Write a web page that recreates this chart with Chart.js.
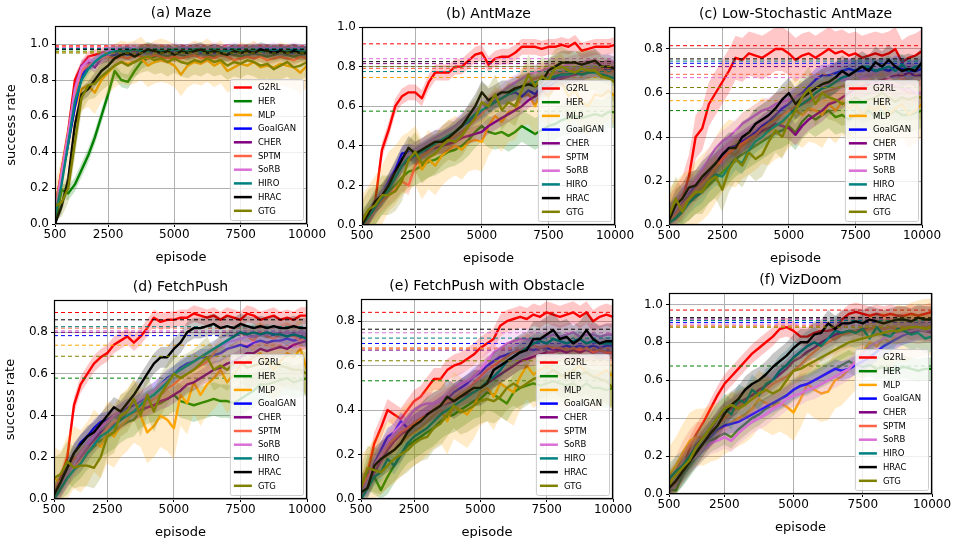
<!DOCTYPE html>
<html>
<head>
<meta charset="utf-8">
<script src="https://cdn.jsdelivr.net/npm/chart.js@4.4.0/dist/chart.umd.min.js"></script>
<style>
  body { margin: 0; background: #fff; width: 955px; height: 538px; overflow: hidden; position: relative; }
  canvas { position: absolute; }
</style>
</head>
<body>
<canvas id="maze"></canvas>
<canvas id="antmaze"></canvas>
<canvas id="lowstoch"></canvas>
<canvas id="fetchpush"></canvas>
<canvas id="fetchobs"></canvas>
<canvas id="vizdoom"></canvas>
<script>
const episodes = [500, 750, 1000, 1250, 1500, 1750, 2000, 2250, 2500, 2750,
  3000, 3250, 3500, 3750, 4000, 4250, 4500, 4750, 5000, 5250,
  5500, 5750, 6000, 6250, 6500, 6750, 7000, 7250, 7500, 7750,
  8000, 8250, 8500, 8750, 9000, 9250, 9500, 9750, 10000];
const xTicks = [500, 2500, 5000, 7500, 10000];
const yTicksTo1 = [0, 0.2, 0.4, 0.6, 0.8, 1.0];
const yTicksTo08 = [0, 0.2, 0.4, 0.6, 0.8];

const methods = ["G2RL", "HER", "MLP", "GoalGAN", "CHER", "SPTM", "SoRB", "HIRO", "HRAC", "GTG"];
const colors = ["#ff0000", "#008000", "#ffa500", "#0000ff", "#800080", "#ff6347", "#da70d6", "#008080", "#000000", "#808000"];

// (a) Maze  -- one row per method, same order as methods
const mazeValues = [
  [0.08,0.3,0.52,0.8,0.88,0.93,0.94,0.95,0.96,0.97, 0.97,0.97,0.96,0.97,0.97,0.96,0.97,0.96,0.96,0.97, 0.96,0.97,0.96,0.97,0.96,0.96,0.97,0.96,0.97,0.96, 0.96,0.97,0.96,0.96,0.97,0.96,0.97,0.96,0.96],
  [0.0,0.19,0.17,0.22,0.3,0.38,0.48,0.6,0.72,0.85, 0.8,0.79,0.85,0.9,0.92,0.93,0.94,0.93,0.95,0.94, 0.93,0.94,0.95,0.94,0.93,0.94,0.95,0.94,0.93,0.94, 0.95,0.94,0.93,0.94,0.95,0.94,0.93,0.94,0.95],
  [0.1,0.25,0.45,0.65,0.75,0.77,0.73,0.8,0.84,0.88, 0.9,0.89,0.9,0.92,0.88,0.9,0.91,0.9,0.88,0.83, 0.88,0.9,0.89,0.91,0.88,0.9,0.85,0.87,0.89,0.88, 0.9,0.87,0.88,0.87,0.89,0.88,0.87,0.84,0.88],
  [0.05,0.25,0.45,0.65,0.82,0.88,0.9,0.92,0.93,0.94, 0.95,0.94,0.95,0.96,0.95,0.96,0.95,0.96,0.95,0.96, 0.95,0.96,0.95,0.96,0.95,0.96,0.95,0.96,0.95,0.96, 0.95,0.96,0.95,0.96,0.95,0.96,0.95,0.96,0.95],
  [0.05,0.28,0.5,0.75,0.88,0.9,0.87,0.92,0.95,0.96, 0.96,0.97,0.96,0.97,0.97,0.96,0.97,0.96,0.97,0.96, 0.97,0.96,0.97,0.96,0.97,0.96,0.97,0.96,0.97,0.96, 0.97,0.96,0.97,0.96,0.97,0.96,0.97,0.96,0.97],
  [0.08,0.3,0.5,0.72,0.85,0.88,0.9,0.92,0.93,0.92, 0.93,0.92,0.94,0.93,0.92,0.94,0.93,0.92,0.93,0.92, 0.93,0.94,0.92,0.93,0.92,0.94,0.93,0.91,0.92,0.93, 0.92,0.93,0.91,0.92,0.93,0.92,0.91,0.93,0.92],
  [0.06,0.28,0.5,0.75,0.87,0.91,0.9,0.94,0.96,0.97, 0.97,0.97,0.98,0.97,0.97,0.98,0.97,0.97,0.98,0.97, 0.97,0.98,0.97,0.97,0.98,0.97,0.97,0.98,0.97,0.97, 0.98,0.97,0.97,0.98,0.97,0.97,0.98,0.97,0.97],
  [0.04,0.22,0.45,0.68,0.8,0.86,0.9,0.93,0.95,0.96, 0.96,0.96,0.97,0.96,0.96,0.97,0.96,0.96,0.97,0.96, 0.96,0.97,0.96,0.96,0.97,0.96,0.96,0.97,0.96,0.96, 0.97,0.96,0.96,0.97,0.96,0.96,0.97,0.96,0.96],
  [0.0,0.1,0.25,0.55,0.72,0.75,0.8,0.85,0.88,0.92, 0.94,0.95,0.93,0.95,0.97,0.96,0.95,0.96,0.94,0.96, 0.95,0.96,0.97,0.95,0.96,0.95,0.94,0.96,0.95,0.96, 0.95,0.97,0.96,0.95,0.96,0.95,0.96,0.95,0.95],
  [0.1,0.12,0.2,0.45,0.7,0.77,0.78,0.82,0.85,0.88, 0.9,0.88,0.9,0.92,0.93,0.91,0.92,0.9,0.92,0.9, 0.89,0.91,0.9,0.92,0.9,0.91,0.88,0.9,0.89,0.91, 0.9,0.88,0.89,0.86,0.88,0.9,0.87,0.88,0.9]
];
const mazeBest = [0.99, 0.96, 0.955, 0.975, 0.98, 0.985, 0.98, 0.975, 0.97, 0.95];
const mazeSpread = [0.03, 0.04, 0.12, 0.03, 0.03, 0.03, 0.03, 0.03, 0.04, 0.08];

// (b) AntMaze
const antValues = [
  [0.0,0.03,0.12,0.38,0.48,0.6,0.65,0.67,0.67,0.64, 0.72,0.77,0.77,0.77,0.8,0.8,0.83,0.86,0.87,0.81, 0.84,0.85,0.85,0.87,0.9,0.9,0.9,0.89,0.9,0.9, 0.91,0.9,0.92,0.88,0.89,0.9,0.9,0.9,0.91],
  [0.0,0.04,0.08,0.13,0.17,0.2,0.24,0.27,0.28,0.3, 0.32,0.33,0.35,0.37,0.38,0.4,0.43,0.47,0.5,0.47, 0.46,0.47,0.45,0.47,0.5,0.48,0.46,0.48,0.5,0.51, 0.53,0.54,0.55,0.54,0.55,0.56,0.55,0.57,0.57],
  [0.0,0.05,0.1,0.15,0.22,0.25,0.3,0.32,0.35,0.28, 0.33,0.3,0.35,0.38,0.4,0.38,0.42,0.43,0.42,0.5, 0.55,0.52,0.57,0.58,0.65,0.66,0.6,0.68,0.65,0.7, 0.72,0.65,0.68,0.62,0.6,0.66,0.65,0.68,0.65],
  [0.0,0.05,0.1,0.15,0.22,0.28,0.36,0.37,0.36,0.38, 0.4,0.42,0.43,0.45,0.47,0.5,0.52,0.55,0.57,0.6, 0.63,0.64,0.66,0.67,0.65,0.68,0.66,0.7,0.72,0.74, 0.75,0.76,0.76,0.77,0.78,0.79,0.78,0.79,0.78],
  [0.0,0.04,0.09,0.14,0.2,0.25,0.3,0.33,0.35,0.37, 0.38,0.39,0.4,0.41,0.42,0.44,0.45,0.46,0.47,0.5, 0.52,0.54,0.56,0.58,0.6,0.63,0.65,0.68,0.7,0.72, 0.74,0.75,0.76,0.77,0.78,0.79,0.78,0.8,0.79],
  [0.0,0.03,0.08,0.12,0.15,0.18,0.22,0.2,0.3,0.35, 0.37,0.4,0.41,0.43,0.45,0.47,0.5,0.53,0.56,0.6, 0.62,0.64,0.66,0.68,0.7,0.72,0.74,0.75,0.76,0.77, 0.77,0.78,0.78,0.77,0.78,0.79,0.78,0.77,0.78],
  [0.0,0.05,0.1,0.16,0.2,0.26,0.32,0.36,0.38,0.4, 0.42,0.44,0.46,0.48,0.5,0.53,0.56,0.58,0.6,0.62, 0.64,0.67,0.7,0.72,0.74,0.76,0.77,0.78,0.79,0.8, 0.8,0.81,0.82,0.82,0.83,0.83,0.82,0.83,0.82],
  [0.0,0.04,0.09,0.14,0.18,0.24,0.3,0.34,0.35,0.37, 0.39,0.41,0.43,0.45,0.47,0.5,0.53,0.56,0.58,0.6, 0.62,0.64,0.66,0.68,0.7,0.71,0.72,0.73,0.74,0.75, 0.76,0.76,0.77,0.76,0.77,0.77,0.76,0.75,0.74],
  [0.0,0.06,0.12,0.15,0.2,0.27,0.33,0.39,0.36,0.38, 0.4,0.42,0.42,0.44,0.47,0.5,0.55,0.6,0.67,0.63, 0.65,0.67,0.67,0.69,0.7,0.71,0.7,0.72,0.78,0.8, 0.82,0.82,0.82,0.81,0.82,0.83,0.8,0.8,0.79],
  [0.02,0.08,0.1,0.15,0.15,0.17,0.22,0.33,0.37,0.31, 0.34,0.36,0.4,0.43,0.42,0.45,0.5,0.54,0.62,0.6, 0.66,0.58,0.62,0.6,0.68,0.76,0.7,0.75,0.73,0.79, 0.8,0.78,0.77,0.79,0.78,0.78,0.75,0.74,0.72]
];
const antBest = [0.915, 0.575, 0.745, 0.8, 0.815, 0.79, 0.84, 0.775, 0.825, 0.8];
const antSpread = [0.04, 0.08, 0.15, 0.04, 0.04, 0.05, 0.04, 0.04, 0.06, 0.1];

// (c) Low-Stochastic AntMaze
const lowValues = [
  [0.03,0.08,0.12,0.22,0.4,0.44,0.55,0.6,0.65,0.7, 0.76,0.75,0.78,0.77,0.76,0.78,0.8,0.8,0.78,0.75, 0.77,0.78,0.76,0.78,0.8,0.78,0.79,0.77,0.78,0.76, 0.77,0.78,0.77,0.78,0.8,0.74,0.76,0.77,0.79],
  [0.02,0.04,0.07,0.1,0.13,0.15,0.18,0.21,0.24,0.27, 0.3,0.32,0.34,0.36,0.38,0.4,0.42,0.43,0.45,0.42, 0.47,0.5,0.48,0.5,0.52,0.49,0.5,0.48,0.5,0.5, 0.52,0.49,0.51,0.5,0.52,0.5,0.5,0.51,0.52],
  [0.02,0.05,0.08,0.1,0.14,0.17,0.2,0.25,0.3,0.33, 0.32,0.36,0.38,0.4,0.43,0.42,0.45,0.46,0.5,0.52, 0.5,0.53,0.52,0.5,0.55,0.52,0.56,0.53,0.55,0.5, 0.54,0.52,0.55,0.5,0.53,0.55,0.5,0.52,0.55],
  [0.04,0.08,0.12,0.15,0.18,0.22,0.25,0.28,0.32,0.35, 0.36,0.38,0.4,0.42,0.45,0.47,0.5,0.53,0.55,0.58, 0.6,0.63,0.66,0.68,0.68,0.69,0.7,0.71,0.7,0.7, 0.71,0.7,0.71,0.7,0.72,0.71,0.7,0.7,0.71],
  [0.02,0.06,0.1,0.13,0.17,0.2,0.24,0.28,0.3,0.33, 0.35,0.37,0.39,0.41,0.43,0.44,0.46,0.45,0.44,0.41, 0.45,0.48,0.5,0.52,0.55,0.56,0.58,0.6,0.62,0.63, 0.64,0.65,0.66,0.67,0.68,0.68,0.69,0.68,0.68],
  [0.02,0.05,0.09,0.12,0.16,0.19,0.22,0.26,0.3,0.33, 0.35,0.37,0.39,0.41,0.44,0.46,0.48,0.5,0.52,0.54, 0.55,0.56,0.58,0.6,0.61,0.62,0.63,0.64,0.63,0.64, 0.65,0.64,0.65,0.64,0.63,0.62,0.6,0.6,0.6],
  [0.03,0.07,0.12,0.16,0.2,0.25,0.3,0.35,0.38,0.4, 0.43,0.46,0.48,0.5,0.52,0.53,0.55,0.56,0.57,0.58, 0.59,0.6,0.62,0.63,0.64,0.65,0.66,0.66,0.65,0.66, 0.65,0.64,0.65,0.64,0.63,0.62,0.62,0.6,0.6],
  [0.01,0.03,0.06,0.1,0.13,0.15,0.2,0.23,0.22,0.26, 0.3,0.28,0.34,0.38,0.4,0.43,0.45,0.47,0.5,0.53, 0.55,0.57,0.6,0.62,0.63,0.65,0.67,0.68,0.7,0.72, 0.72,0.7,0.71,0.72,0.7,0.73,0.7,0.72,0.72],
  [0.02,0.09,0.12,0.17,0.18,0.22,0.25,0.28,0.32,0.35, 0.35,0.4,0.42,0.46,0.48,0.5,0.53,0.57,0.6,0.55, 0.58,0.6,0.62,0.64,0.65,0.67,0.7,0.68,0.7,0.72, 0.7,0.74,0.72,0.75,0.72,0.7,0.71,0.7,0.74],
  [0.04,0.12,0.06,0.12,0.15,0.15,0.2,0.22,0.16,0.25, 0.3,0.27,0.33,0.3,0.32,0.38,0.43,0.4,0.47,0.52, 0.58,0.62,0.55,0.6,0.58,0.57,0.55,0.56,0.58,0.56, 0.57,0.58,0.6,0.58,0.56,0.58,0.57,0.58,0.58]
];
const lowBest = [0.815, 0.52, 0.565, 0.735, 0.72, 0.685, 0.67, 0.745, 0.755, 0.625];
const lowSpread = [0.1, 0.08, 0.15, 0.05, 0.05, 0.06, 0.05, 0.05, 0.07, 0.1];

// (d) FetchPush
const pushValues = [
  [0.02,0.1,0.2,0.45,0.55,0.6,0.65,0.68,0.7,0.74, 0.76,0.78,0.75,0.78,0.82,0.87,0.85,0.86,0.86,0.87, 0.87,0.89,0.88,0.87,0.88,0.86,0.88,0.87,0.86,0.89, 0.88,0.86,0.87,0.88,0.86,0.87,0.86,0.88,0.88],
  [0.0,0.05,0.1,0.15,0.18,0.22,0.25,0.28,0.3,0.32, 0.35,0.37,0.38,0.42,0.44,0.45,0.46,0.48,0.5,0.47, 0.46,0.45,0.46,0.47,0.48,0.47,0.47,0.46,0.48,0.5, 0.52,0.55,0.55,0.56,0.57,0.58,0.56,0.57,0.58],
  [0.1,0.08,0.15,0.2,0.18,0.22,0.28,0.25,0.32,0.3, 0.35,0.38,0.42,0.4,0.32,0.35,0.4,0.38,0.34,0.5, 0.46,0.56,0.5,0.55,0.58,0.62,0.56,0.6,0.64,0.66, 0.68,0.7,0.66,0.62,0.66,0.7,0.68,0.72,0.62],
  [0.0,0.08,0.15,0.22,0.27,0.3,0.34,0.37,0.38,0.4, 0.42,0.44,0.45,0.47,0.5,0.52,0.55,0.58,0.6,0.63, 0.65,0.66,0.68,0.68,0.69,0.7,0.72,0.73,0.74,0.73, 0.75,0.76,0.75,0.76,0.76,0.77,0.76,0.77,0.77],
  [0.0,0.05,0.1,0.16,0.2,0.24,0.28,0.32,0.34,0.36, 0.38,0.4,0.42,0.43,0.44,0.45,0.47,0.48,0.5,0.52, 0.55,0.56,0.58,0.6,0.62,0.63,0.65,0.66,0.68,0.7, 0.7,0.72,0.71,0.72,0.73,0.72,0.74,0.75,0.76],
  [0.02,0.05,0.1,0.15,0.18,0.22,0.27,0.3,0.34,0.37, 0.38,0.4,0.42,0.44,0.46,0.48,0.5,0.53,0.55,0.58, 0.6,0.62,0.64,0.66,0.7,0.74,0.76,0.78,0.8,0.78, 0.76,0.8,0.78,0.77,0.79,0.8,0.78,0.76,0.78],
  [0.02,0.06,0.12,0.17,0.22,0.26,0.3,0.34,0.37,0.4, 0.42,0.45,0.46,0.48,0.5,0.52,0.55,0.57,0.6,0.62, 0.64,0.66,0.68,0.7,0.72,0.73,0.75,0.76,0.77,0.78, 0.78,0.79,0.79,0.8,0.79,0.8,0.79,0.8,0.79],
  [0.0,0.05,0.1,0.14,0.17,0.22,0.26,0.3,0.32,0.35, 0.38,0.4,0.42,0.45,0.48,0.5,0.53,0.56,0.6,0.62, 0.64,0.66,0.68,0.7,0.72,0.74,0.76,0.78,0.8,0.79, 0.8,0.79,0.8,0.79,0.79,0.78,0.79,0.78,0.77],
  [0.02,0.08,0.15,0.22,0.26,0.3,0.32,0.36,0.4,0.44, 0.42,0.46,0.5,0.55,0.6,0.65,0.68,0.68,0.72,0.75, 0.8,0.82,0.82,0.83,0.84,0.82,0.83,0.82,0.84,0.83, 0.82,0.83,0.82,0.83,0.82,0.82,0.83,0.82,0.82],
  [0.1,0.12,0.18,0.15,0.16,0.16,0.15,0.2,0.3,0.32, 0.4,0.42,0.48,0.4,0.5,0.42,0.5,0.55,0.6,0.58, 0.6,0.62,0.65,0.68,0.62,0.64,0.62,0.65,0.66,0.63, 0.64,0.65,0.66,0.65,0.64,0.63,0.62,0.62,0.6]
];
const pushBest = [0.895, 0.58, 0.738, 0.784, 0.8, 0.82, 0.807, 0.827, 0.86, 0.685];
const pushSpread = [0.04, 0.08, 0.15, 0.04, 0.04, 0.05, 0.04, 0.04, 0.05, 0.1];

// (e) FetchPush with Obstacle
const obsValues = [
  [0.03,0.12,0.25,0.32,0.4,0.38,0.36,0.4,0.44,0.46, 0.5,0.54,0.54,0.58,0.6,0.61,0.63,0.65,0.68,0.7, 0.72,0.78,0.8,0.81,0.82,0.81,0.83,0.82,0.84,0.83, 0.82,0.83,0.84,0.82,0.84,0.8,0.82,0.83,0.82],
  [0.02,0.12,0.1,0.04,0.1,0.15,0.2,0.24,0.26,0.28, 0.3,0.32,0.35,0.37,0.38,0.4,0.42,0.44,0.45,0.48, 0.47,0.45,0.43,0.48,0.5,0.51,0.52,0.51,0.52,0.53, 0.52,0.51,0.52,0.5,0.52,0.5,0.5,0.49,0.5],
  [0.05,0.08,0.12,0.17,0.2,0.22,0.25,0.28,0.3,0.32, 0.35,0.38,0.4,0.35,0.42,0.4,0.38,0.42,0.48,0.5, 0.46,0.52,0.5,0.48,0.55,0.6,0.56,0.58,0.6,0.58, 0.55,0.56,0.58,0.6,0.57,0.55,0.56,0.58,0.55],
  [0.02,0.08,0.16,0.22,0.28,0.3,0.35,0.32,0.34,0.36, 0.38,0.4,0.42,0.45,0.48,0.5,0.52,0.55,0.57,0.6, 0.62,0.64,0.65,0.66,0.67,0.68,0.67,0.68,0.68,0.67, 0.68,0.69,0.68,0.69,0.68,0.69,0.68,0.69,0.69],
  [0.02,0.06,0.12,0.17,0.22,0.26,0.29,0.31,0.34,0.36, 0.38,0.4,0.42,0.43,0.44,0.46,0.47,0.48,0.5,0.52, 0.54,0.56,0.58,0.6,0.62,0.63,0.64,0.65,0.66,0.66, 0.67,0.66,0.67,0.66,0.67,0.66,0.67,0.66,0.66],
  [0.05,0.1,0.15,0.2,0.24,0.27,0.3,0.32,0.34,0.36, 0.38,0.4,0.42,0.44,0.45,0.47,0.49,0.52,0.55,0.58, 0.6,0.62,0.64,0.66,0.67,0.68,0.69,0.68,0.69,0.68, 0.68,0.67,0.68,0.67,0.68,0.66,0.67,0.66,0.66],
  [0.02,0.08,0.15,0.2,0.25,0.3,0.33,0.36,0.4,0.42, 0.43,0.43,0.44,0.47,0.5,0.52,0.53,0.55,0.58,0.62, 0.66,0.68,0.7,0.71,0.72,0.72,0.71,0.72,0.73,0.74, 0.73,0.74,0.75,0.73,0.74,0.74,0.73,0.74,0.74],
  [0.0,0.05,0.1,0.12,0.18,0.15,0.2,0.25,0.28,0.3, 0.32,0.35,0.38,0.4,0.42,0.44,0.46,0.48,0.5,0.53, 0.55,0.58,0.62,0.64,0.66,0.68,0.7,0.71,0.7,0.72, 0.71,0.7,0.71,0.72,0.7,0.71,0.7,0.7,0.7],
  [0.03,0.05,0.15,0.18,0.2,0.22,0.25,0.3,0.33,0.35, 0.38,0.4,0.42,0.46,0.44,0.46,0.48,0.5,0.5,0.52, 0.58,0.6,0.62,0.64,0.66,0.67,0.72,0.72,0.74,0.76, 0.72,0.73,0.7,0.72,0.76,0.72,0.7,0.71,0.71],
  [0.05,0.14,0.13,0.12,0.15,0.18,0.2,0.22,0.25,0.27, 0.28,0.32,0.34,0.38,0.42,0.39,0.4,0.42,0.44,0.45, 0.44,0.46,0.5,0.52,0.5,0.52,0.54,0.55,0.56,0.58, 0.56,0.55,0.58,0.56,0.57,0.55,0.54,0.53,0.5]
];
const obsBest = [0.84, 0.532, 0.676, 0.7, 0.67, 0.68, 0.748, 0.724, 0.764, 0.622];
const obsSpread = [0.05, 0.08, 0.15, 0.04, 0.04, 0.06, 0.05, 0.04, 0.08, 0.1];

// (f) VizDoom
const doomValues = [
  [0.03,0.06,0.12,0.25,0.32,0.38,0.45,0.52,0.58,0.62, 0.66,0.7,0.74,0.77,0.8,0.83,0.87,0.88,0.86,0.83, 0.83,0.85,0.86,0.86,0.87,0.92,0.95,0.96,0.95,0.94, 0.95,0.94,0.95,0.94,0.94,0.95,0.94,0.95,0.96],
  [0.02,0.02,0.1,0.15,0.2,0.24,0.28,0.3,0.32,0.3, 0.34,0.37,0.4,0.42,0.45,0.47,0.5,0.52,0.55,0.57, 0.58,0.6,0.62,0.64,0.66,0.68,0.7,0.68,0.67,0.68, 0.66,0.67,0.65,0.66,0.67,0.66,0.65,0.66,0.66],
  [0.1,0.15,0.22,0.28,0.3,0.3,0.32,0.33,0.36,0.38, 0.4,0.42,0.45,0.5,0.48,0.46,0.48,0.46,0.43,0.5, 0.58,0.55,0.53,0.54,0.6,0.62,0.66,0.7,0.75,0.8, 0.78,0.82,0.8,0.85,0.84,0.86,0.87,0.88,0.88],
  [0.03,0.08,0.13,0.18,0.23,0.27,0.3,0.34,0.36,0.37, 0.38,0.4,0.42,0.44,0.46,0.48,0.5,0.52,0.55,0.57, 0.58,0.6,0.62,0.64,0.66,0.65,0.66,0.68,0.7,0.72, 0.75,0.78,0.8,0.82,0.84,0.85,0.86,0.87,0.87],
  [0.03,0.08,0.14,0.2,0.26,0.3,0.34,0.4,0.43,0.45, 0.48,0.5,0.52,0.55,0.57,0.6,0.63,0.66,0.7,0.72, 0.75,0.77,0.8,0.82,0.84,0.85,0.86,0.86,0.87,0.87, 0.88,0.87,0.88,0.87,0.88,0.86,0.87,0.86,0.85],
  [0.05,0.12,0.2,0.26,0.3,0.3,0.32,0.36,0.4,0.43, 0.46,0.48,0.5,0.52,0.55,0.58,0.6,0.62,0.65,0.68, 0.72,0.75,0.78,0.8,0.82,0.84,0.85,0.86,0.86,0.87, 0.88,0.87,0.88,0.87,0.88,0.88,0.87,0.88,0.88],
  [0.03,0.08,0.12,0.17,0.2,0.24,0.27,0.28,0.3,0.28, 0.32,0.35,0.38,0.4,0.42,0.45,0.47,0.5,0.52,0.53, 0.55,0.56,0.58,0.6,0.62,0.64,0.66,0.7,0.74,0.78, 0.8,0.82,0.83,0.84,0.85,0.86,0.87,0.86,0.87],
  [0.08,0.12,0.15,0.2,0.25,0.3,0.35,0.4,0.45,0.42, 0.5,0.48,0.55,0.52,0.58,0.6,0.65,0.68,0.72,0.75, 0.78,0.8,0.78,0.82,0.86,0.85,0.86,0.85,0.87,0.82, 0.88,0.84,0.83,0.87,0.86,0.84,0.85,0.82,0.83],
  [0.03,0.07,0.12,0.17,0.22,0.27,0.32,0.36,0.42,0.47, 0.5,0.55,0.58,0.6,0.63,0.67,0.7,0.73,0.77,0.8, 0.8,0.84,0.85,0.9,0.87,0.9,0.9,0.91,0.9,0.92, 0.91,0.9,0.91,0.92,0.92,0.91,0.93,0.92,0.92],
  [0.05,0.1,0.14,0.18,0.25,0.3,0.35,0.4,0.45,0.47, 0.45,0.47,0.5,0.53,0.55,0.53,0.55,0.6,0.65,0.66, 0.68,0.7,0.72,0.74,0.76,0.78,0.8,0.81,0.82,0.83, 0.84,0.85,0.86,0.86,0.87,0.88,0.88,0.87,0.88]
];
const doomBest = [0.97, 0.675, 0.88, 0.905, 0.923, 0.887, 0.896, 0.915, 0.93, 0.88];
const doomSpread = [0.05, 0.06, 0.15, 0.05, 0.05, 0.08, 0.06, 0.08, 0.07, 0.07];

const FONT = "'DejaVu Sans', sans-serif";

// plot-area boxes [left, top, right, bottom] in page pixels
const panels = [
  { id: "maze", title: "(a) Maze", values: mazeValues, best: mazeBest, spread: mazeSpread, yMax: 1.1, yTicks: yTicksTo1, box: [55, 26, 307, 224], ylabel: true },
  { id: "antmaze", title: "(b) AntMaze", values: antValues, best: antBest, spread: antSpread, yMax: 1.0, yTicks: yTicksTo1, box: [362, 27, 615, 225] },
  { id: "lowstoch", title: "(c) Low-Stochastic AntMaze", values: lowValues, best: lowBest, spread: lowSpread, yMax: 0.9, yTicks: yTicksTo08, box: [669, 27, 922, 225] },
  { id: "fetchpush", title: "(d) FetchPush", values: pushValues, best: pushBest, spread: pushSpread, yMax: 0.955, yTicks: yTicksTo08, box: [54, 300, 307, 499], ylabel: true },
  { id: "fetchobs", title: "(e) FetchPush with Obstacle", values: obsValues, best: obsBest, spread: obsSpread, yMax: 0.9, yTicks: yTicksTo08, box: [361, 299, 613, 499] },
  { id: "vizdoom", title: "(f) VizDoom", values: doomValues, best: doomBest, spread: doomSpread, yMax: 1.06, yTicks: yTicksTo1, box: [669, 293, 932, 494] }
];

function rgba(hex, a) {
  const n = parseInt(hex.slice(1), 16);
  return `rgba(${(n >> 16) & 255},${(n >> 8) & 255},${n & 255},${a})`;
}

// frame, legend, title and axis labels
function decorPlugin(p) {
  return {
    id: "decor",
    afterDraw(chart) {
      const ctx = chart.ctx;
      const a = chart.chartArea;
      ctx.save();

      // legend, lower right
      ctx.font = `8.5px ${FONT}`;
      const maxW = Math.max(...methods.map(m => ctx.measureText(m).width));
      const rowH = 13.7;
      const bw = 29 + maxW + 6;
      const bh = methods.length * rowH + 4;
      const bx = a.right - 4 - bw;
      const by = a.bottom - 4 - bh;
      ctx.fillStyle = "rgba(255,255,255,0.8)";
      ctx.strokeStyle = "#cccccc";
      ctx.lineWidth = 1;
      ctx.beginPath();
      ctx.roundRect(bx + 0.5, by + 0.5, bw, bh, 2);
      ctx.fill();
      ctx.stroke();
      ctx.textBaseline = "middle";
      ctx.textAlign = "left";
      methods.forEach((m, i) => {
        const cy = by + 8.5 + i * rowH;
        ctx.strokeStyle = colors[i];
        ctx.lineWidth = 2.5;
        ctx.beginPath();
        ctx.moveTo(bx + 4, cy);
        ctx.lineTo(bx + 22, cy);
        ctx.stroke();
        ctx.fillStyle = "#000";
        ctx.fillText(m, bx + 28, cy + 0.5);
      });

      // axes frame
      ctx.strokeStyle = "#000";
      ctx.lineWidth = 1.2;
      ctx.strokeRect(Math.round(a.left) + 0.5, Math.round(a.top) + 0.5,
        Math.round(a.right - a.left) - 1, Math.round(a.bottom - a.top) - 1);

      // title and labels
      ctx.fillStyle = "#000";
      ctx.textAlign = "center";
      ctx.font = `14px ${FONT}`;
      ctx.fillText(p.title, (a.left + a.right) / 2, a.top - 12.5);
      ctx.font = `13px ${FONT}`;
      ctx.fillText("episode", (a.left + a.right) / 2, a.bottom + 33.5);
      if (p.ylabel) {
        ctx.translate(a.left - 43, (a.top + a.bottom) / 2);
        ctx.rotate(-Math.PI / 2);
        ctx.fillText("success rate", 0, 0);
      }
      ctx.restore();
    }
  };
}

function makeChart(p) {
  const padTop = 30, padRight = 26, padLeft = 52, axisH = 44;
  const cvLeft = Math.max(0, p.box[0] - padLeft);
  const yW = p.box[0] - cvLeft;
  const w = p.box[2] - p.box[0];
  const h = p.box[3] - p.box[1];
  const canvas = document.getElementById(p.id);
  canvas.width = yW + w + padRight;
  canvas.height = padTop + h + axisH;
  canvas.style.left = cvLeft + "px";
  canvas.style.top = (p.box[1] - padTop) + "px";

  const datasets = [];
  methods.forEach((m, i) => {
    const vals = p.values[i];
    const s = p.spread[i];
    const base = 1000 - i * 10;
    datasets.push({
      label: m + " upper",
      data: episodes.map((x, k) => ({ x, y: vals[k] + s })),
      borderColor: "transparent", borderWidth: 0, pointRadius: 0, fill: false, order: base
    });
    datasets.push({
      label: m + " lower",
      data: episodes.map((x, k) => ({ x, y: Math.max(0, vals[k] - s) })),
      borderColor: "transparent", borderWidth: 0, pointRadius: 0,
      fill: "-1", backgroundColor: rgba(colors[i], 0.22), order: base - 1
    });
    datasets.push({
      label: m,
      data: episodes.map((x, k) => ({ x, y: vals[k] })),
      borderColor: colors[i], borderWidth: 2.4, pointRadius: 0, fill: false,
      borderJoinStyle: "round", order: base - 2
    });
    datasets.push({
      label: m + " best",
      data: [{ x: episodes[0], y: p.best[i] }, { x: episodes[episodes.length - 1], y: p.best[i] }],
      borderColor: colors[i], borderWidth: 1, borderDash: [4, 3], pointRadius: 0, fill: false,
      order: base - 3
    });
  });

  return new Chart(canvas, {
    type: "line",
    data: { datasets },
    options: {
      responsive: false,
      animation: false,
      devicePixelRatio: 1,
      events: [],
      layout: { padding: { top: padTop, right: padRight, left: 0, bottom: 0 } },
      plugins: { legend: { display: false }, tooltip: { enabled: false }, title: { display: false } },
      scales: {
        x: {
          type: "linear", min: 500, max: 10000,
          afterBuildTicks: sc => { sc.ticks = xTicks.map(v => ({ value: v })); },
          afterFit: sc => { sc.height = axisH; },
          ticks: { color: "#000", font: { family: FONT, size: 12 }, padding: 1, maxRotation: 0, autoSkip: false, callback: v => String(v) },
          grid: { color: "#b0b0b0", lineWidth: 1, tickLength: 3, tickColor: "#000" },
          border: { display: false }
        },
        y: {
          min: 0, max: p.yMax,
          afterBuildTicks: sc => { sc.ticks = p.yTicks.map(v => ({ value: v })); },
          afterFit: sc => { sc.width = yW; },
          ticks: { color: "#000", font: { family: FONT, size: 12 }, padding: 3, autoSkip: false, callback: v => v.toFixed(1) },
          grid: { color: "#b0b0b0", lineWidth: 1, tickLength: 3, tickColor: "#000" },
          border: { display: false }
        }
      }
    },
    plugins: [decorPlugin(p)]
  });
}

panels.forEach(makeChart);
</script>
</body>
</html>
